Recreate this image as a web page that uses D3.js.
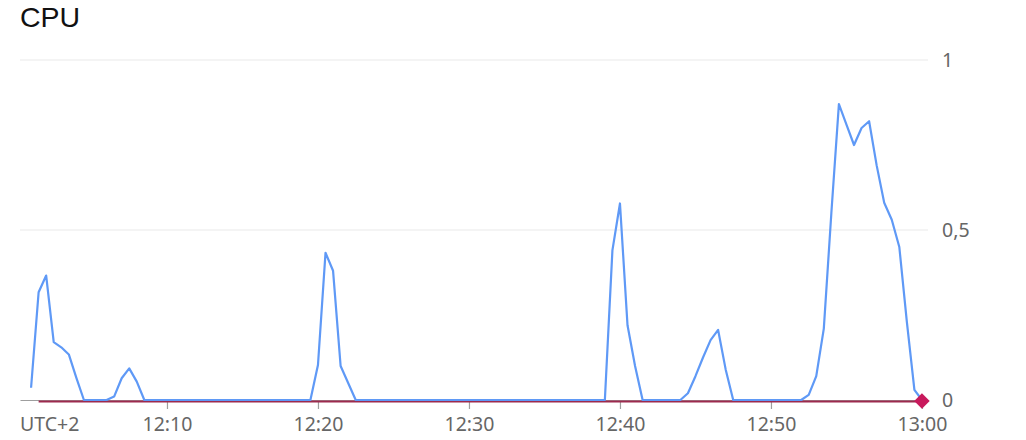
<!DOCTYPE html>
<html lang="en">
<head>
  <meta charset="UTF-8">
  <title>CPU</title>
  <script src="https://cdn.jsdelivr.net/npm/d3@7"></script>
  <style>
    body { margin: 0; background: #fff; }
    svg { display: block; }
  </style>
</head>
<body>
  <svg width="1026" height="440"></svg>
  <script>
    // cpu samples every 30 s, starting 12:01:00
    var cpuStart = '12:01:00';
    var cpuStepSeconds = 30;
    var cpuValues = [
      0.036, 0.317, 0.366, 0.17, 0.155, 0.134, 0.065, 0, 0, 0,
      0, 0.01, 0.064, 0.093, 0.054, 0, 0, 0, 0, 0,
      0, 0, 0, 0, 0, 0, 0, 0, 0, 0,
      0, 0, 0, 0, 0, 0, 0, 0, 0.103, 0.433,
      0.38, 0.1, 0.05, 0, 0, 0, 0, 0, 0, 0,
      0, 0, 0, 0, 0, 0, 0, 0, 0, 0,
      0, 0, 0, 0, 0, 0, 0, 0, 0, 0,
      0, 0, 0, 0, 0, 0, 0, 0.44, 0.578, 0.22,
      0.1, 0, 0, 0, 0, 0, 0, 0.02, 0.07, 0.125,
      0.176, 0.206, 0.09, 0, 0, 0, 0, 0, 0, 0,
      0, 0, 0, 0.015, 0.07, 0.21, 0.55, 0.87, 0.81, 0.75,
      0.80, 0.82, 0.69, 0.58, 0.53, 0.45, 0.23, 0.03, 0
    ];
    // second series (flat, ends with a marker)
    var limitTimes = ['12:01:30', '13:00:00'];
    var limitValues = [0, 0];

    var xDomain = ['12:00:16', '13:00:24'];
    var xTicks = ['12:10:00', '12:20:00', '12:30:00', '12:40:00', '12:50:00', '13:00:00'];
    var yTicks = [0, 0.5, 1];
    var yGrid = [0.5, 1];
    var title = 'CPU';
    var zoneLabel = 'UTC+2';

    var parse = d3.timeParse('%H:%M:%S');
    var svg = d3.select('svg');
    var margin = {left: 20, right: 98, top: 60, bottom: 40};
    var width = +svg.attr('width');
    var height = +svg.attr('height');

    var x = d3.scaleTime()
      .domain(xDomain.map(parse))
      .range([margin.left, width - margin.right]);
    var y = d3.scaleLinear()
      .domain([0, 1])
      .range([height - margin.bottom, margin.top]);

    var t0 = parse(cpuStart);
    var cpuData = cpuValues.map(function(v, i) {
      return {t: d3.timeSecond.offset(t0, i * cpuStepSeconds), v: v};
    });
    var limitData = limitTimes.map(function(t, i) {
      return {t: parse(t), v: limitValues[i]};
    });

    var tickFont = '"Noto Sans", sans-serif';

    // title
    svg.append('text')
      .attr('x', 20)
      .attr('y', 27)
      .attr('font-family', 'Liberation Sans, Arial, sans-serif')
      .attr('font-size', 28.5)
      .attr('fill', '#111')
      .text(title);

    // grid lines
    svg.append('g').selectAll('line')
      .data(yGrid)
      .join('line')
      .attr('x1', x.range()[0])
      .attr('x2', x.range()[1])
      .attr('y1', function(d) { return y(d); })
      .attr('y2', function(d) { return y(d); })
      .attr('stroke', '#e9e9e9')
      .attr('stroke-width', 1.2);

    // bottom axis
    var xAxis = d3.axisBottom(x)
      .tickValues(xTicks.map(parse))
      .tickFormat(d3.timeFormat('%H:%M'))
      .tickSize(9)
      .tickSizeOuter(0)
      .tickPadding(8);
    var gx = svg.append('g')
      .attr('transform', 'translate(0,' + y(0) + ')')
      .call(xAxis);
    gx.select('.domain').attr('stroke', '#9e9e9e').attr('stroke-width', 1.2);
    gx.selectAll('.tick line').attr('stroke', '#9e9e9e').attr('stroke-width', 1.2);
    gx.selectAll('.tick text')
      .attr('font-family', tickFont)
      .attr('font-size', 19.5)
      .attr('fill', '#666');

    svg.append('text')
      .attr('x', 20)
      .attr('y', y(0) + 31)
      .attr('font-family', tickFont)
      .attr('font-size', 19.5)
      .attr('fill', '#666')
      .text(zoneLabel);

    // right axis
    var locale = d3.formatLocale({decimal: ',', thousands: '.', grouping: [3], currency: ['', '']});
    var yAxis = d3.axisRight(y)
      .tickValues(yTicks)
      .tickFormat(locale.format('~g'))
      .tickSize(0)
      .tickPadding(8);
    var gy = svg.append('g')
      .attr('transform', 'translate(934,0)')
      .call(yAxis);
    gy.select('.domain').remove();
    gy.selectAll('.tick text')
      .attr('font-family', tickFont)
      .attr('font-size', 19.5)
      .attr('fill', '#666');

    // series
    var line = d3.line()
      .x(function(d) { return x(d.t); })
      .y(function(d) { return y(d.v); });

    svg.append('path')
      .datum(limitData)
      .attr('d', line)
      .attr('transform', 'translate(0,1.5)')
      .attr('fill', 'none')
      .attr('stroke', '#9c2a4e')
      .attr('stroke-width', 2.2);

    svg.append('path')
      .datum(cpuData)
      .attr('d', line)
      .attr('fill', 'none')
      .attr('stroke', '#5f99f6')
      .attr('stroke-width', 2.2)
      .attr('stroke-linejoin', 'round');

    var last = limitData[limitData.length - 1];
    svg.append('path')
      .attr('d', d3.symbol(d3.symbolSquare, 120)())
      .attr('transform', 'translate(' + x(last.t) + ',' + (y(last.v) + 1) + ') rotate(45)')
      .attr('fill', '#c8195c');
  </script>
</body>
</html>
